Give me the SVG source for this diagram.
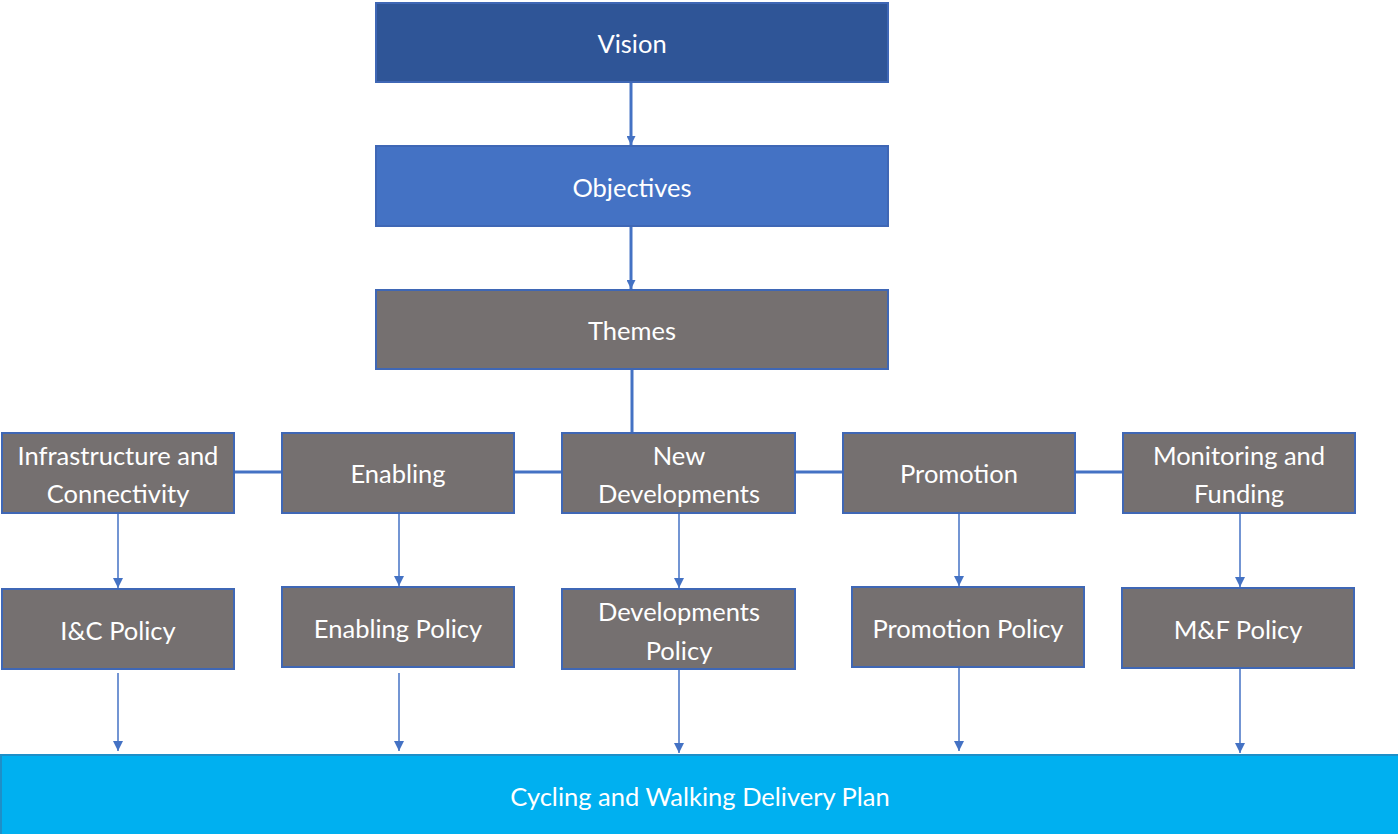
<svg xmlns="http://www.w3.org/2000/svg" width="1398" height="834" viewBox="0 0 1398 834">
<style>
.box{stroke:#3F67B5;stroke-width:2}
.grey{fill:#757070}
.t{font-family:Lato,"Open Sans","Liberation Sans",sans-serif;font-size:25.5px;fill:#FFFFFF;text-anchor:middle;dominant-baseline:central}
.thick{stroke:#4472C4;stroke-width:3;fill:none}
.thin{stroke:#4472C4;stroke-width:1.5;fill:none}
</style>
<defs>
<marker id="ah" viewBox="0 0 10 10" refX="10" refY="5" markerWidth="9" markerHeight="9" markerUnits="userSpaceOnUse" orient="auto"><path d="M0,0 L10,5 L0,10 z" fill="#4472C4"/></marker>
<marker id="ahs" viewBox="0 0 10 10" refX="10" refY="5" markerWidth="10" markerHeight="10" markerUnits="userSpaceOnUse" orient="auto"><path d="M0,0 L10,5 L0,10 z" fill="#4472C4"/></marker>
</defs>
<rect width="1398" height="834" fill="#FFFFFF"/>
<g id="connectors">
<line class="thick" x1="631" y1="82" x2="631" y2="145" marker-end="url(#ah)"/>
<line class="thick" x1="631" y1="226" x2="631" y2="289" marker-end="url(#ah)"/>
<line class="thick" x1="632" y1="369" x2="632" y2="433"/>
<line class="thick" x1="234" y1="472" x2="282" y2="472"/>
<line class="thick" x1="514" y1="472" x2="562" y2="472"/>
<line class="thick" x1="795" y1="472" x2="843" y2="472"/>
<line class="thick" x1="1075" y1="472" x2="1123" y2="472"/>
<line class="thin" x1="118" y1="513" x2="118" y2="588" marker-end="url(#ahs)"/>
<line class="thin" x1="399" y1="513" x2="399" y2="586" marker-end="url(#ahs)"/>
<line class="thin" x1="679" y1="513" x2="679" y2="588" marker-end="url(#ahs)"/>
<line class="thin" x1="959" y1="513" x2="959" y2="586" marker-end="url(#ahs)"/>
<line class="thin" x1="1240" y1="513" x2="1240" y2="587" marker-end="url(#ahs)"/>
<line class="thin" x1="118" y1="673" x2="118" y2="751" marker-end="url(#ahs)"/>
<line class="thin" x1="399" y1="673" x2="399" y2="751" marker-end="url(#ahs)"/>
<line class="thin" x1="679" y1="669" x2="679" y2="753" marker-end="url(#ahs)"/>
<line class="thin" x1="959" y1="667" x2="959" y2="751" marker-end="url(#ahs)"/>
<line class="thin" x1="1240" y1="668" x2="1240" y2="753" marker-end="url(#ahs)"/>
</g>
<g id="vision"><rect class="box" x="376" y="3" width="512" height="79" fill="#2F5597"/><text class="t" x="632" y="43">Vision</text></g>
<g id="objectives"><rect class="box" x="376" y="146" width="512" height="80" fill="#4472C4"/><text class="t" x="632" y="187">Objectives</text></g>
<g id="themes"><rect class="box grey" x="376" y="290" width="512" height="79"/><text class="t" x="632" y="330">Themes</text></g>
<g id="infra"><rect class="box grey" x="2" y="433" width="232" height="80"/><text class="t" x="118" y="455">Infrastructure and</text><text class="t" x="118" y="493">Connectivity</text></g>
<g id="enabling"><rect class="box grey" x="282" y="433" width="232" height="80"/><text class="t" x="398" y="473">Enabling</text></g>
<g id="newdev"><rect class="box grey" x="562" y="433" width="233" height="80"/><text class="t" x="679" y="455">New</text><text class="t" x="679" y="493">Developments</text></g>
<g id="promotion"><rect class="box grey" x="843" y="433" width="232" height="80"/><text class="t" x="959" y="473">Promotion</text></g>
<g id="monitoring"><rect class="box grey" x="1123" y="433" width="232" height="80"/><text class="t" x="1239" y="455">Monitoring and</text><text class="t" x="1239" y="493">Funding</text></g>
<g id="icpolicy"><rect class="box grey" x="2" y="589" width="232" height="80"/><text class="t" x="118" y="630">I&amp;C Policy</text></g>
<g id="enablingpolicy"><rect class="box grey" x="282" y="587" width="232" height="80"/><text class="t" x="398" y="628">Enabling Policy</text></g>
<g id="devpolicy"><rect class="box grey" x="562" y="589" width="233" height="80"/><text class="t" x="679" y="611">Developments</text><text class="t" x="679" y="650">Policy</text></g>
<g id="promopolicy"><rect class="box grey" x="852" y="587" width="232" height="80"/><text class="t" x="968" y="628">Promotion Policy</text></g>
<g id="mfpolicy"><rect class="box grey" x="1122" y="588" width="232" height="80"/><text class="t" x="1238" y="629">M&amp;F Policy</text></g>
<g id="plan"><rect x="1" y="755" width="1398" height="80" fill="#00B0F0" stroke="#1E8FC8" stroke-width="2"/><text class="t" x="700" y="796">Cycling and Walking Delivery Plan</text></g>
</svg>
